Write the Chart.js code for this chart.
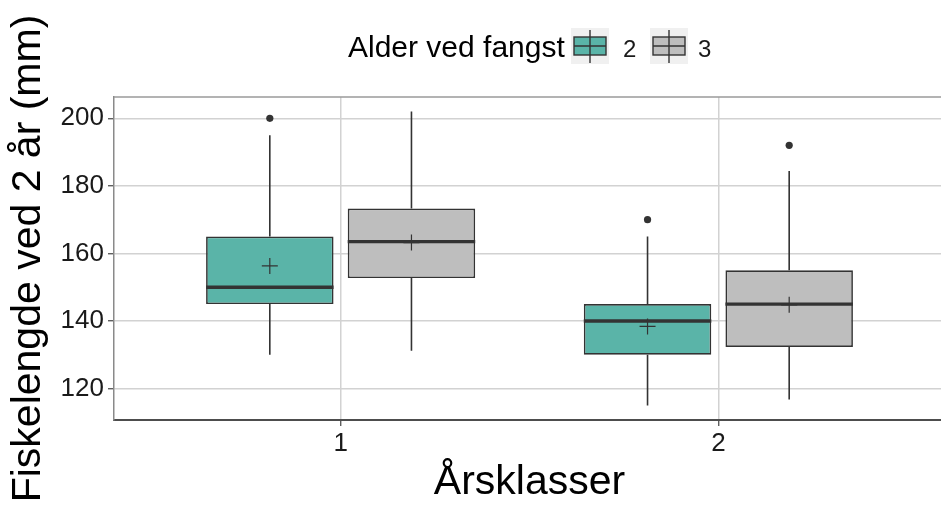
<!DOCTYPE html>
<html>
<head>
<meta charset="utf-8">
<script src="https://cdn.jsdelivr.net/npm/chart.js@4/dist/chart.umd.min.js"></script>
<style>
  html, body { margin: 0; padding: 0; overflow: hidden; background: #fff; }
  #wrap { width: 945px; height: 507px; }
</style>
</head>
<body>
<div id="wrap"><canvas id="c" width="945" height="507"></canvas></div>
<script>
// Year classes on the x axis, age at capture as the two box series
const yearClasses = [1, 2];
const ageLabels = ['2', '3'];
const yTicks = [120, 140, 160, 180, 200];

// Age 2 at capture: box-plot statistics per year class
const low2   = [130, 115];
const q1_2   = [145, 130];
const med2   = [150, 140];
const q3_2   = [165, 145];
const high2  = [195, 165];
const mean2  = [156.3, 138.4];
const out2   = [[200], [170]];

// Age 3 at capture
const low3   = [131.2, 116.8];
const q1_3   = [152.7, 132.3];
const med3   = [163.5, 145];
const q3_3   = [173.3, 155];
const high3  = [202, 184.4];
const mean3  = [163.2, 144.8];
const out3   = [[], [192]];

const fills = ['#5ab4a8', '#bebebe'];
const ink = '#333333';
const FONT = "'Liberation Sans', Arial, sans-serif";
Chart.defaults.font.family = FONT;

const stats = [
  { low: low2, q1: q1_2, med: med2, q3: q3_2, high: high2, mean: mean2, out: out2 },
  { low: low3, q1: q1_3, med: med3, q3: q3_3, high: high3, mean: mean3, out: out3 }
];

function boxData(q1, q3) {
  return yearClasses.map((c, i) => ({ x: c, y: [q1[i], q3[i]] }));
}

// Whiskers, medians, means and outliers on top of the floating-bar boxes
const boxExtras = {
  id: 'boxExtras',
  afterDatasetsDraw(chart) {
    const ctx = chart.ctx;
    const ys = chart.scales.y;
    ctx.save();
    stats.forEach((s, d) => {
      const meta = chart.getDatasetMeta(d);
      meta.data.forEach((bar, i) => {
        const x = bar.x, half = bar.width / 2;
        ctx.strokeStyle = ink;
        ctx.lineCap = 'butt';
        // whiskers
        ctx.lineWidth = 1.6;
        ctx.beginPath();
        ctx.moveTo(x, ys.getPixelForValue(s.q3[i]));
        ctx.lineTo(x, ys.getPixelForValue(s.high[i]));
        ctx.moveTo(x, ys.getPixelForValue(s.q1[i]));
        ctx.lineTo(x, ys.getPixelForValue(s.low[i]));
        ctx.stroke();
        // median
        ctx.lineWidth = 3.4;
        ctx.beginPath();
        const my = ys.getPixelForValue(s.med[i]);
        ctx.moveTo(x - half, my);
        ctx.lineTo(x + half, my);
        ctx.stroke();
        // mean marker
        ctx.lineWidth = 1.2;
        const meanY = ys.getPixelForValue(s.mean[i]);
        ctx.beginPath();
        ctx.moveTo(x - 8, meanY); ctx.lineTo(x + 8, meanY);
        ctx.moveTo(x, meanY - 8); ctx.lineTo(x, meanY + 8);
        ctx.stroke();
        // outliers
        ctx.fillStyle = ink;
        s.out[i].forEach(v => {
          ctx.beginPath();
          ctx.arc(x, ys.getPixelForValue(v), 3.6, 0, Math.PI * 2);
          ctx.fill();
        });
      });
    });
    // panel top edge
    const a = chart.chartArea;
    ctx.strokeStyle = '#9a9a9a';
    ctx.lineWidth = 1.5;
    ctx.beginPath();
    ctx.moveTo(a.left, a.top);
    ctx.lineTo(a.right, a.top);
    ctx.stroke();
    ctx.restore();
  }
};

// Horizontal legend with its title on the left
const boxLegend = {
  id: 'boxLegend',
  afterDraw(chart) {
    const ctx = chart.ctx;
    ctx.save();
    ctx.fillStyle = '#000';
    ctx.textBaseline = 'alphabetic';
    ctx.font = '30px ' + FONT;
    ctx.fillText('Alder ved fangst', 348, 57);
    const keyCenters = [590, 669];
    const labelX = [623, 698];
    ageLabels.forEach((lab, k) => {
      const cx = keyCenters[k];
      ctx.fillStyle = '#f0f0f0';
      ctx.fillRect(cx - 19, 28, 38, 36);
      ctx.fillStyle = fills[k];
      ctx.fillRect(cx - 16, 37, 32, 18);
      ctx.strokeStyle = ink;
      ctx.lineWidth = 1.4;
      ctx.strokeRect(cx - 16, 37, 32, 18);
      ctx.beginPath();
      ctx.moveTo(cx - 16, 46); ctx.lineTo(cx + 16, 46);
      ctx.moveTo(cx, 30); ctx.lineTo(cx, 63);
      ctx.stroke();
      ctx.fillStyle = '#1a1a1a';
      ctx.font = '24px ' + FONT;
      ctx.fillText(lab, labelX[k], 57);
    });
    ctx.restore();
  }
};

new Chart(document.getElementById('c'), {
  type: 'bar',
  data: {
    datasets: ageLabels.map((lab, d) => ({
      label: lab,
      data: boxData(stats[d].q1, stats[d].q3),
      backgroundColor: fills[d],
      borderColor: ink,
      borderWidth: 1.7,
      borderSkipped: false,
      categoryPercentage: 0.75,
      barPercentage: 0.9
    }))
  },
  options: {
    responsive: false,
    animation: false,
    events: [],
    layout: { padding: { top: 97, left: 0, right: 0, bottom: 0 } },
    plugins: { legend: { display: false }, tooltip: { enabled: false }, title: { display: false } },
    scales: {
      x: {
        type: 'linear',
        min: 0.4,
        max: 2.6,
        offset: false,
        afterBuildTicks: s => { s.ticks = yearClasses.map(v => ({ value: v })); },
        afterFit: s => { s.height = 87; },
        ticks: { color: '#1a1a1a', font: { size: 26 }, padding: 2, callback: v => String(v) },
        grid: { offset: false, color: '#d2d2d2', lineWidth: 1.5, tickLength: 6, tickColor: '#444', tickWidth: 1.2 },
        border: { color: '#4d4d4d', width: 2 },
        title: { display: true, text: 'Årsklasser', color: '#000', font: { size: 41 }, padding: 0 }
      },
      y: {
        min: 110.7,
        max: 206.3,
        afterBuildTicks: s => { s.ticks = yTicks.map(v => ({ value: v })); },
        afterFit: s => { s.width = 114; },
        ticks: { color: '#1a1a1a', font: { size: 26 }, padding: 4, callback: v => String(v) },
        grid: { color: '#d2d2d2', lineWidth: 1.5, tickLength: 6, tickColor: '#444', tickWidth: 1.2 },
        border: { color: '#8a8a8a', width: 1.5 },
        title: { display: true, text: 'Fiskelengde ved 2 år (mm)', color: '#000', font: { size: 41 }, padding: { top: 4, bottom: 0 } }
      }
    }
  },
  plugins: [boxExtras, boxLegend]
});
</script>
</body>
</html>
